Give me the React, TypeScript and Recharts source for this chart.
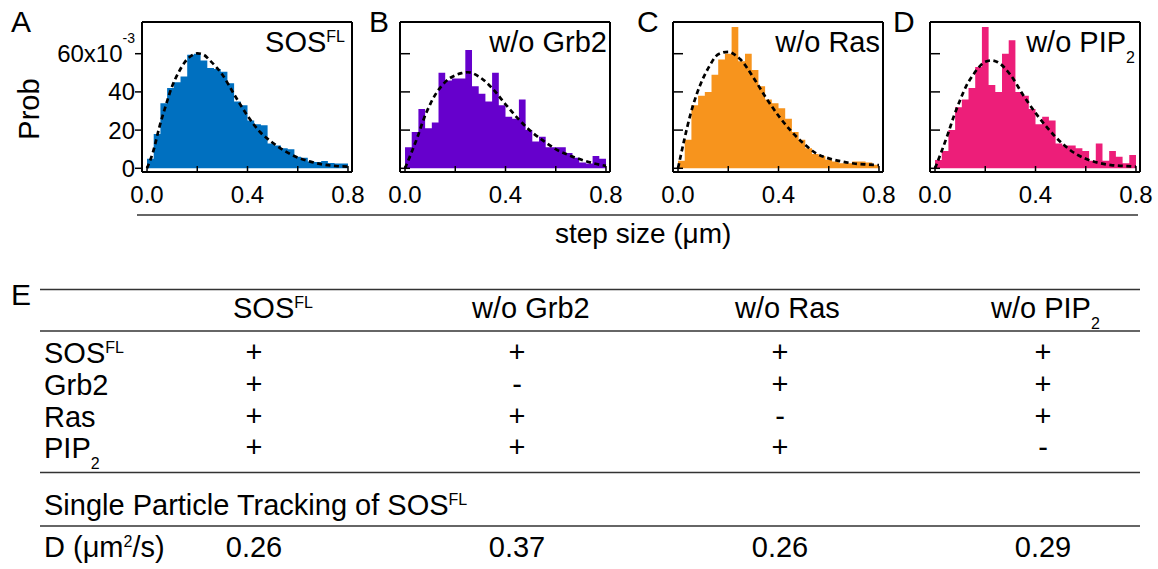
import React from "react";
import { ComposedChart, XAxis, YAxis, Area, Line } from "recharts";

// step-size histograms: 30 bins from 0 to 0.8 µm, probabilities in units of 1e-3
const BIN_COUNT = 30;
const BIN_W = 0.8 / BIN_COUNT;

const PROB_SOS = [5, 18, 34, 42, 45, 48, 59.5, 60, 56.5, 52.5, 52, 50.5, 44.5, 35, 33, 25, 23, 22.5, 13, 12, 10.5, 10, 6, 5.5, 3.5, 3.3, 3.8, 2.8, 2.5, 2.5];
const PROB_GRB2 = [11, 19, 31, 21, 24, 50, 46, 47, 47, 62, 43, 39, 35, 50, 33, 27, 26, 36, 20, 14, 16.5, 11, 11, 11, 8, 5.5, 3, 2.5, 6.5, 5];
const PROB_RAS = [4, 15, 33, 38, 40, 49, 57, 60, 74, 56, 60, 51.5, 43, 36, 34, 31.5, 26, 19, 15, 10.5, 7.5, 6.5, 4.5, 3.5, 2.6, 2.6, 3.5, 3.5, 3, 1.8];
const PROB_PIP2 = [4.4, 9, 20, 32, 36, 42, 53, 74, 43.6, 40, 60, 67, 40, 38, 31, 23, 27, 25, 13, 12, 12, 10.5, 9, 4, 13, 4, 9, 6, 2.6, 7];

// dashed fit curves, read at these step sizes
const FIT_X = [0, 0.025, 0.05, 0.075, 0.1, 0.125, 0.15, 0.175, 0.2, 0.225, 0.25, 0.3, 0.35, 0.4, 0.45, 0.5, 0.55, 0.6, 0.65, 0.7, 0.75, 0.8];
const FIT_SOS = [0, 9, 22, 33, 43, 50, 55.5, 58.8, 60.2, 59.5, 56.5, 49, 38, 27.5, 19, 13.4, 8.9, 5.6, 3.5, 2, 1.2, 0.9];
const FIT_GRB2 = [0, 8, 16.5, 26, 33.5, 39.5, 43.8, 46.9, 48.7, 49.8, 50.3, 47.5, 41.5, 33.5, 26, 19.5, 14.5, 10, 7, 4.6, 2.6, 1.3];
const FIT_RAS = [0, 15, 28.5, 39, 47.2, 53.5, 58.6, 60.5, 61, 59.5, 56.8, 47.5, 37, 27.5, 19.5, 13, 7.8, 5.2, 3.6, 2.5, 2, 1.7];
const FIT_PIP2 = [0, 8.5, 17.5, 27.3, 35.8, 43.3, 48.6, 53, 55.8, 56.5, 55.5, 49, 38.5, 29, 20.8, 13.8, 8.4, 5, 2.9, 1.7, 1.2, 0.9];

const X_TICKS = [0, 0.2, 0.4, 0.6, 0.8];
const X_LABELED = [0, 0.4, 0.8];
const Y_TICKS = [0, 20, 40, 60];

// table (panel E)
const CONDITIONS = [
  { text: "SOS", sup: "FL" },
  { text: "w/o Grb2" },
  { text: "w/o Ras" },
  { text: "w/o PIP", sub: "2" },
];
const COMPONENTS = [
  { text: "SOS", sup: "FL" },
  { text: "Grb2" },
  { text: "Ras" },
  { text: "PIP", sub: "2" },
];
// rows = components, columns = conditions
const PRESENCE = [
  ["+", "+", "+", "+"],
  ["+", "-", "+", "+"],
  ["+", "+", "-", "+"],
  ["+", "+", "+", "-"],
];
const D_VALUES = [0.26, 0.37, 0.26, 0.29];

const FONT = "'Liberation Sans', Arial, Helvetica, sans-serif";
const X_DOMAIN: [number, number] = [-0.02, 0.816];
const Y_DOMAIN: [number, number] = [-1.94, 76.6];
const FRAME = { stroke: "#000", strokeWidth: 2 };

const PANELS = [
  { letter: "A", probs: PROB_SOS, fit: FIT_SOS, color: "#0070c0", left: 142, title: CONDITIONS[0], yLabels: true },
  { letter: "B", probs: PROB_GRB2, fit: FIT_GRB2, color: "#6600cc", left: 400, title: CONDITIONS[1], yLabels: false },
  { letter: "C", probs: PROB_RAS, fit: FIT_RAS, color: "#f7941d", left: 673, title: CONDITIONS[2], yLabels: false },
  { letter: "D", probs: PROB_PIP2, fit: FIT_PIP2, color: "#ed1e79", left: 930, title: CONDITIONS[3], yLabels: false },
];
const PLOT_TOP = 22;
const PLOT_W = 210;
const PLOT_H = 150;
// room for the axes around the plot box (axes of size 0 are not drawn)
const AX_L = 40;
const AX_B = 40;
const AX_T = 1;
const AX_R = 1;

const XTick = (props: any) => {
  const { x, y, payload } = props;
  const v = payload.value;
  return (
    <g>
      <line x1={x} x2={x} y1={y} y2={y - 6} stroke="#000" strokeWidth={1.5} />
      {X_LABELED.includes(v) && (
        <text x={x} y={y + 31} textAnchor="middle" fontSize={24} fill="#000">
          {v.toFixed(1)}
        </text>
      )}
    </g>
  );
};

const YTickOut = (props: any) => {
  const { x, y, payload } = props;
  const v = payload.value;
  return (
    <g>
      <line x1={x - 7} x2={x} y1={y} y2={y} stroke="#000" strokeWidth={1.5} />
      <text x={x - 7} y={y + 8.5} textAnchor="end" fontSize={24} fill="#000">
        {v === 60 ? (
          <>
            <tspan>60x10</tspan>
            <tspan dy={-19} fontSize={14}>-3</tspan>
          </>
        ) : (
          v
        )}
      </text>
    </g>
  );
};

const YTickIn = (props: any) => {
  const { x, y } = props;
  return <line x1={x} x2={x + 10} y1={y} y2={y} stroke="#000" strokeWidth={1.5} />;
};

function Histogram({ probs, fit, color, yLabels }: { probs: number[]; fit: number[]; color: string; yLabels: boolean }) {
  // histogram as a step area: left edge of each bin, plus the closing edge at 0.8
  const steps = probs.map((p, i) => ({ x: i * BIN_W, y: p }));
  steps.push({ x: BIN_COUNT * BIN_W, y: probs[probs.length - 1] });
  const curve = FIT_X.map((x, i) => ({ x, y: fit[i] }));
  return (
    <ComposedChart width={PLOT_W + AX_L + AX_R} height={PLOT_H + AX_T + AX_B} margin={{ top: 0, right: 0, bottom: 0, left: 0 }}>
      <XAxis xAxisId="b" type="number" dataKey="x" domain={X_DOMAIN} allowDataOverflow ticks={X_TICKS} interval={0}
        height={AX_B} tickSize={0} tickMargin={0} tickLine={false} axisLine={FRAME} tick={<XTick />} />
      <XAxis xAxisId="t" orientation="top" type="number" dataKey="x" domain={X_DOMAIN} allowDataOverflow
        height={AX_T} tick={false} tickLine={false} axisLine={FRAME} />
      <YAxis yAxisId="l" type="number" domain={Y_DOMAIN} allowDataOverflow ticks={Y_TICKS} interval={0}
        width={AX_L} tickSize={0} tickMargin={0} tickLine={false} axisLine={FRAME}
        tick={yLabels ? <YTickOut /> : <YTickIn />} />
      <YAxis yAxisId="r" orientation="right" type="number" domain={Y_DOMAIN} allowDataOverflow
        width={AX_R} tick={false} tickLine={false} axisLine={FRAME} />
      <Area xAxisId="b" yAxisId="l" data={steps} dataKey="y" type="stepAfter" stroke="none"
        fill={color} fillOpacity={1} isAnimationActive={false} />
      <Line xAxisId="b" yAxisId="l" data={curve} dataKey="y" type="monotone" stroke="#000"
        strokeWidth={2.7} strokeDasharray="5 3.5" dot={false} isAnimationActive={false} />
    </ComposedChart>
  );
}

const Label = ({ item, x, y, size, anchor = "start" }: any) => (
  <text x={x} y={y} fontSize={size} textAnchor={anchor} fill="#000">
    <tspan>{item.text}</tspan>
    {item.sup && <tspan dy={-10} fontSize={16}>{item.sup}</tspan>}
    {item.sub && <tspan dy={11} fontSize={16}>{item.sub}</tspan>}
  </text>
);

const TITLE_RIGHT = [345, 607, 880, 1135];
const LETTER_X = [11, 369, 637, 893];
const COL_CENTER = [254, 517, 780, 1043];
const HEADER_X = [233, 472, 735, 991];
const ROW_BASE = [363, 395, 427, 458];

export default function App() {
  return (
    <div style={{ position: "fixed", left: 0, top: 0, width: 1158, height: 569, background: "#fff", overflow: "hidden", fontFamily: FONT }}>
      <style>{".recharts-surface{overflow:visible}"}</style>
      {PANELS.map((p) => (
        <div key={p.letter} style={{ position: "absolute", left: p.left - AX_L, top: PLOT_TOP - AX_T }}>
          <Histogram probs={p.probs} fit={p.fit} color={p.color} yLabels={p.yLabels} />
        </div>
      ))}
      <svg width={1158} height={569} style={{ position: "absolute", left: 0, top: 0, pointerEvents: "none" }} fontFamily={FONT}>
        {PANELS.map((p, i) => (
          <g key={p.letter}>
            <text x={LETTER_X[i]} y={32} fontSize={30} fill="#000">{p.letter}</text>
            <Label item={p.title} x={TITLE_RIGHT[i]} y={52} size={29} anchor="end" />
          </g>
        ))}
        <text transform="translate(39,109) rotate(-90)" textAnchor="middle" fontSize={29} fill="#000">Prob</text>
        <line x1={137} x2={1138} y1={215} y2={215} stroke="#333" strokeWidth={1.5} />
        <text x={555} y={243} fontSize={28} fill="#000">step size (μm)</text>

        <text x={11} y={305} fontSize={30} fill="#000">E</text>
        {[289.5, 331, 472.5, 526].map((y) => (
          <line key={y} x1={40} x2={1140} y1={y} y2={y} stroke="#333" strokeWidth={1.5} />
        ))}
        {CONDITIONS.map((c, i) => (
          <Label key={i} item={c} x={HEADER_X[i]} y={318} size={29} />
        ))}
        {COMPONENTS.map((c, r) => (
          <g key={r}>
            <Label item={c} x={44} y={ROW_BASE[r]} size={29} />
            {PRESENCE[r].map((s, col) => (
              <text key={col} x={COL_CENTER[col]} y={ROW_BASE[r] - 1} fontSize={29} textAnchor="middle" fill="#000">{s}</text>
            ))}
          </g>
        ))}
        <Label item={{ text: "Single Particle Tracking of SOS", sup: "FL" }} x={44} y={515} size={29} />
        <text x={44} y={557} fontSize={29} fill="#000">
          <tspan>D (μm</tspan>
          <tspan dy={-10} fontSize={16}>2</tspan>
          <tspan dy={10}>/s)</tspan>
        </text>
        {D_VALUES.map((v, i) => (
          <text key={i} x={COL_CENTER[i]} y={557} fontSize={29} textAnchor="middle" fill="#000">{v.toFixed(2)}</text>
        ))}
      </svg>
    </div>
  );
}
